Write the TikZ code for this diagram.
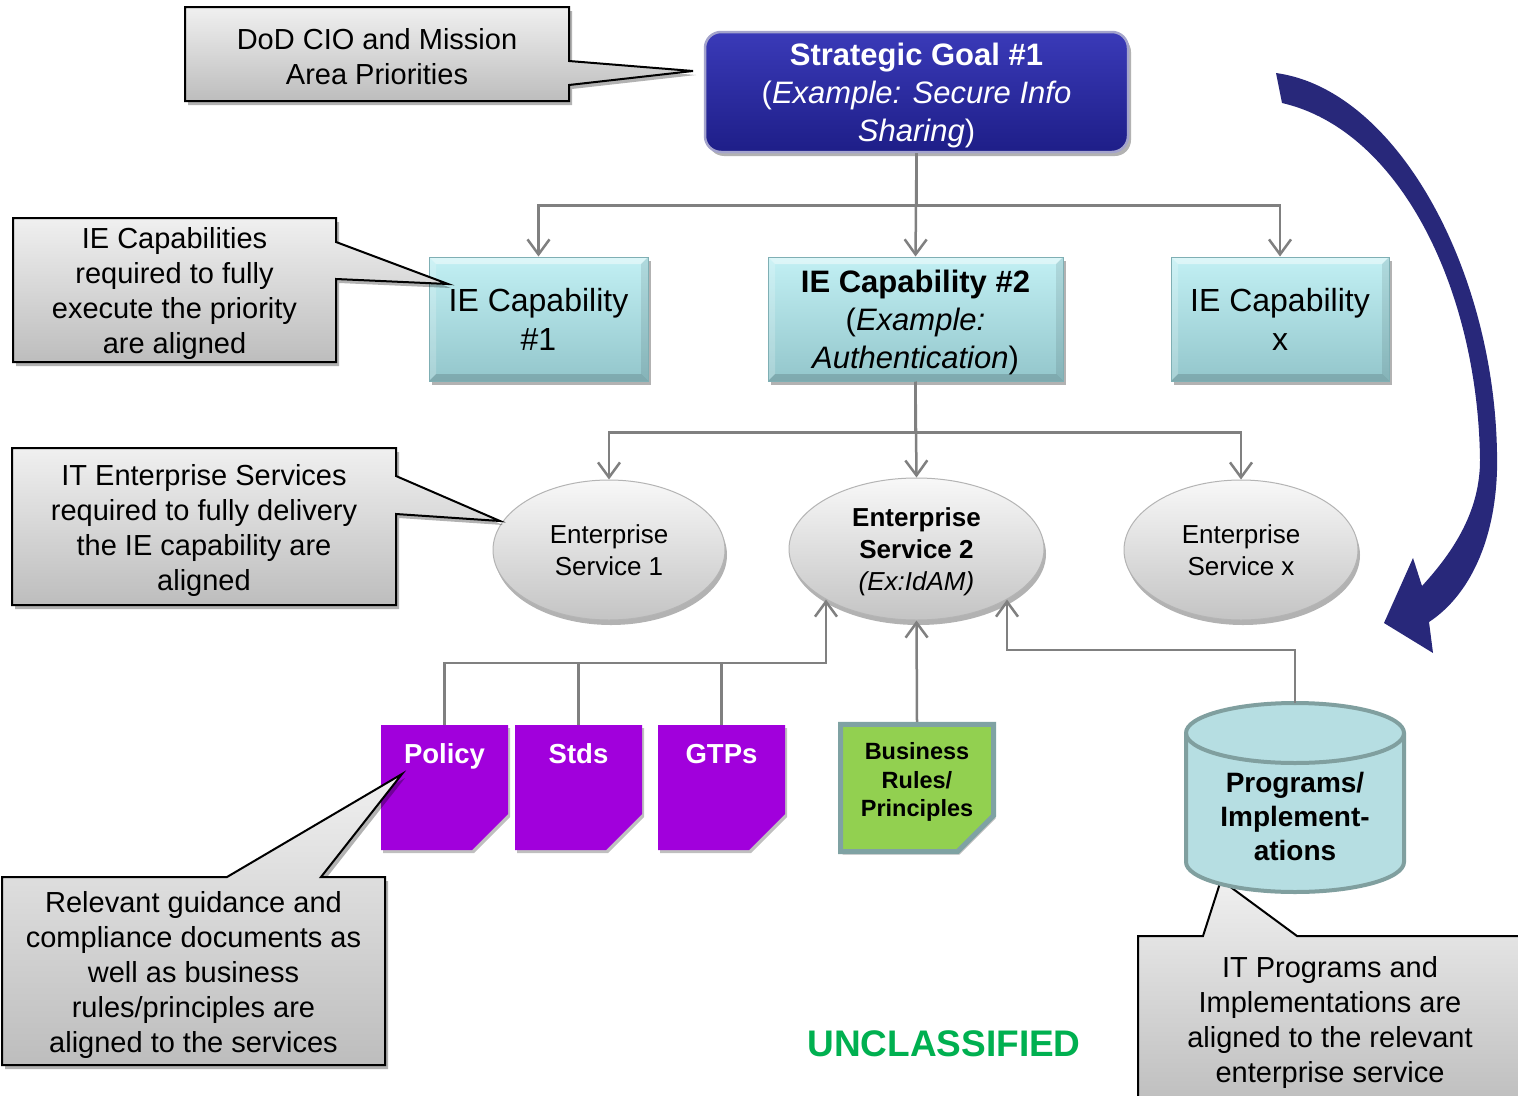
\documentclass[tikz,border=0pt]{standalone}
\usepackage{fontspec}
\setmainfont{Liberation Sans}
\usetikzlibrary{arrows.meta,shapes.geometric,shapes.misc,shadows}

\definecolor{goalTop}{HTML}{3A3AB8}
\definecolor{goalBot}{HTML}{1E1E88}
\definecolor{goalEdge}{HTML}{A4A4CC}
\definecolor{capTop}{HTML}{C2F0F4}
\definecolor{capBot}{HTML}{93C6CB}
\definecolor{capEdge}{HTML}{7FAFB4}
\definecolor{svcTop}{HTML}{F8F8F8}
\definecolor{svcBot}{HTML}{C4C4C4}
\definecolor{svcEdge}{HTML}{B4B4B4}
\definecolor{noteTop}{HTML}{F0F0F0}
\definecolor{noteBot}{HTML}{BDBDBD}
\definecolor{wire}{HTML}{808080}
\definecolor{docPurple}{HTML}{A100DC}
\definecolor{docFold}{HTML}{7400A6}
\definecolor{ruleGreen}{HTML}{92D050}
\definecolor{ruleFold}{HTML}{6E9A3C}
\definecolor{ruleEdge}{HTML}{7FA2A3}
\definecolor{drumFill}{HTML}{B6DEE2}
\definecolor{drumEdge}{HTML}{809F9F}
\definecolor{flowNavy}{HTML}{28287A}
\definecolor{classGreen}{HTML}{00B050}

\newcommand\setfs[2]{\fontsize{#1}{#2}\selectfont}

\tikzset{
  softshadow/.style={drop shadow={shadow xshift=3pt,shadow yshift=-4pt,opacity=.3,fill=black}},
  note/.style={draw=black,line width=2pt,top color=noteTop,bottom color=noteBot,softshadow},
  notetext/.style={align=center,inner sep=0pt,font=\setfs{29}{35}},
  goalbox/.style={rectangle,rounded corners=16pt,draw=goalEdge,line width=2.5pt,
    top color=goalTop,bottom color=goalBot,text=white,align=center,inner sep=0pt,
    text depth=0pt,minimum width=423pt,minimum height=120pt,font=\setfs{31}{38},softshadow},
  capbox/.style={rectangle,draw=capEdge,line width=1pt,top color=capTop,bottom color=capBot,
    align=center,inner sep=0pt,text depth=0pt,minimum height=124pt,softshadow,
    path picture={
      \fill[white,opacity=.45] (path picture bounding box.north west) -- (path picture bounding box.north east)
        -- ([shift={(-7pt,-7pt)}]path picture bounding box.north east) -- ([shift={(7pt,-7pt)}]path picture bounding box.north west) -- cycle;
      \fill[white,opacity=.2] (path picture bounding box.north west) -- ([shift={(7pt,-7pt)}]path picture bounding box.north west)
        -- ([shift={(7pt,7pt)}]path picture bounding box.south west) -- (path picture bounding box.south west) -- cycle;
      \fill[black,opacity=.14] (path picture bounding box.south west) -- (path picture bounding box.south east)
        -- ([shift={(-7pt,7pt)}]path picture bounding box.south east) -- ([shift={(7pt,7pt)}]path picture bounding box.south west) -- cycle;
      \fill[black,opacity=.09] (path picture bounding box.north east) -- ([shift={(-7pt,-7pt)}]path picture bounding box.north east)
        -- ([shift={(-7pt,7pt)}]path picture bounding box.south east) -- (path picture bounding box.south east) -- cycle;
    }},
  svc/.style={ellipse,draw=svcEdge,line width=1pt,top color=svcTop,bottom color=svcBot,
    align=center,inner sep=0pt,text depth=0pt,minimum height=140pt,font=\setfs{26}{32},
    drop shadow={shadow xshift=2pt,shadow yshift=-5pt,opacity=.3,fill=black}},
  doc/.style={chamfered rectangle,chamfered rectangle corners=south east,
    chamfered rectangle xsep=18pt,chamfered rectangle ysep=18pt,
    fill=docPurple,text=white,inner sep=0pt,minimum width=127pt,
    text height=20pt,text depth=69pt,font=\bfseries\setfs{27.5}{33},
    drop shadow={shadow xshift=2pt,shadow yshift=-3pt,opacity=.25,fill=black},
    path picture={\fill[docFold] ([yshift=18pt]path picture bounding box.south east)
      -- ([xshift=-18pt]path picture bounding box.south east)
      -- ([shift={(-13pt,12pt)}]path picture bounding box.south east) -- cycle;}},
  rulebox/.style={chamfered rectangle,chamfered rectangle corners=south east,
    chamfered rectangle xsep=18pt,chamfered rectangle ysep=18pt,
    fill=ruleGreen,draw=ruleEdge,line width=5pt,inner sep=0pt,align=center,
    text depth=17pt,minimum width=153pt,minimum height=121pt,font=\bfseries\setfs{23.5}{28.5},
    drop shadow={shadow xshift=2pt,shadow yshift=-3pt,opacity=.25,fill=black},
    path picture={\fill[ruleFold] ([yshift=18pt]path picture bounding box.south east)
      -- ([xshift=-18pt]path picture bounding box.south east)
      -- ([shift={(-13pt,12pt)}]path picture bounding box.south east) -- cycle;}},
  conn/.style={draw=wire,line width=2.5pt,-{Straight Barb[length=15pt,width=22pt]}},
  link/.style={draw=wire,line width=2.5pt},
}

\begin{document}
\begin{tikzpicture}[x=1pt,y=-1pt]
\useasboundingbox (0,0) rectangle (1518,1095);
\clip (0,0) rectangle (1518,1095);
\fill[white] (0,0) rectangle (1518,1095);

% sweeping arrow from the goal down to the programs
\fill[flowNavy] (1276,73) .. controls (1400,90) and (1500,280) .. (1497,470)
  .. controls (1495,540) and (1470,595) .. (1429,622)
  -- (1433,653) -- (1384,623) -- (1413,558) -- (1422,586)
  .. controls (1455,550) and (1480,510) .. (1480,460)
  .. controls (1478,290) and (1400,130) .. (1282,103) -- cycle;

% strategic goal
\node[goalbox] (goal) at (916.5,92)
  {\textbf{Strategic Goal \#1}\\(\textit{Example: Secure Info}\\\textit{Sharing})};

% IE capabilities
\node[capbox,minimum width=219pt,font=\setfs{32}{39}] (cap1) at (538.5,319) {IE Capability\\\#1};
\node[capbox,minimum width=295pt,font=\setfs{31}{38}] (cap2) at (915.5,319)
  {\textbf{IE Capability \#2}\\(\textit{Example:}\\\textit{Authentication})};
\node[capbox,minimum width=218pt,font=\setfs{32}{39}] (capx) at (1280,319) {IE Capability\\x};

\draw[conn] (goal.south) -- (cap2.north);
\draw[conn] (goal.south) -- ++(0,52) -| (cap1.north);
\draw[conn] (goal.south) -- ++(0,52) -| (capx.north);

% enterprise services
\node[svc,minimum width=232pt] (es1) at (609,550) {Enterprise\\Service 1};
\node[svc,minimum width=255pt,minimum height=142pt] (es2) at (916.5,549)
  {\textbf{Enterprise}\\\textbf{Service 2}\\\textit{(Ex:IdAM)}};
\node[svc,minimum width=234pt] (esx) at (1241,550) {Enterprise\\Service x};

\draw[conn] (cap2.south) -- (es2.north);
\draw[conn] (cap2.south) -- ++(0,51) -| (es1.north);
\draw[conn] (cap2.south) -- ++(0,51) -| (esx.north);

% guidance documents
\node[doc] (policy) at (444.5,787.5) {Policy};
\node[doc] (stds) at (578.5,787.5) {Stds};
\node[doc] (gtps) at (721.5,787.5) {GTPs};
\node[rulebox] (rules) at (917,788) {Business\\Rules/\\Principles};

\draw[conn] (policy.north) -- ++(0,-62) -| (es2.south west);
\draw[link] (stds.north) -- ++(0,-62);
\draw[link] (gtps.north) -- ++(0,-62);
\draw[conn] (rules.north) -- (es2.south);

% explanatory callouts
\path[note] (185,7) -- (569,7) -- (569,61) -- (693,71) -- (569,85) -- (569,101) -- (185,101) -- cycle;
\node[notetext] (n1) at (377,57) {DoD CIO and Mission\\Area Priorities};

\path[note] (13,218) -- (336,218) -- (336,242) -- (448,284) -- (336,279) -- (336,362) -- (13,362) -- cycle;
\node[notetext] (n2) at (174.5,293) {IE Capabilities\\required to fully\\execute the priority\\are aligned};

\path[note] (12,448) -- (396,448) -- (396,476) -- (500,521) -- (396,514) -- (396,605) -- (12,605) -- cycle;
\node[notetext] (n3) at (204,530) {IT Enterprise Services\\required to fully delivery\\the IE capability are\\aligned};

\path[note] (2,877) -- (227,877) -- (402,774) -- (321,877) -- (385,877) -- (385,1065) -- (2,1065) -- cycle;
\node[notetext] (n4) at (193.5,975) {Relevant guidance and\\compliance documents as\\well as business\\rules/principles are\\aligned to the services};

\path[note] (1138,936) -- (1203,936) -- (1221,880) -- (1297,936) -- (1530,936) -- (1530,1110) -- (1138,1110) -- cycle;
\node[notetext] (n5) at (1330,1022) {IT Programs and\\Implementations are\\aligned to the relevant\\enterprise service};

% programs / implementations drum
\filldraw[fill=drumFill,draw=drumEdge,line width=4pt]
  (1186,733) -- (1186,862) arc[start angle=180,end angle=360,x radius=109pt,y radius=30pt]
  -- (1404,733) arc[start angle=0,end angle=180,x radius=109pt,y radius=30pt] -- cycle;
\draw[drumEdge,line width=4pt] (1186,733) arc[start angle=180,end angle=360,x radius=109pt,y radius=30pt];
\node[rectangle,minimum width=218pt,minimum height=190pt,inner sep=0pt] (prog) at (1295,798) {};
\node[align=center,inner sep=0pt,font=\bfseries\setfs{28}{34}] (progtext) at (1295,816)
  {Programs/\\Implement-\\ations};

\draw[conn] (prog.north) -- ++(0,-53) -| (es2.south east);

% marking
\node[font=\bfseries\setfs{37}{40},text=classGreen] (mark) at (944,1044) {UNCLASSIFIED};
\end{tikzpicture}
\end{document}
